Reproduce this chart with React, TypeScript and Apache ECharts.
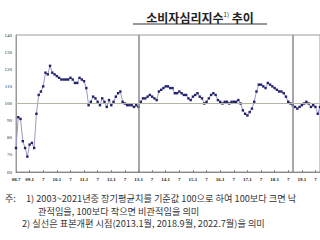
import React, { useEffect, useRef } from "react";
import * as echarts from "echarts";

// Consumer sentiment index, monthly from 2008.7
const values2008to2011 = [74, 92, 91, 78, 74, 69, 76, 77, 74, 94, 105, 107, 110, 118, 117, 122, 118, 117, 116, 115, 114, 114, 114, 114, 115, 114, 112, 112, 115, 114, 113, 109, 99, 101, 104];
const values2011to2013 = [103, 101, 99, 103, 101, 98, 102, 99, 101, 104, 106, 107, 101, 100, 99, 99, 99, 98, 99, 98, 101, 103, 103, 104, 105, 104, 103];
const values2013to2014 = [102, 107, 108, 109, 110, 110, 109, 109];
const values2014to2017 = [106, 106, 107, 106, 105, 105, 103, 102, 104, 105, 106, 104, 103, 100, 101, 103, 105, 106, 105, 102, 101, 100, 101, 101, 100, 101, 101, 101, 102, 100, 96, 94, 93, 95, 97, 101, 107];
const values2017to2019 = [111, 111, 110, 109, 112, 111, 110, 109, 108, 107, 107, 106, 104, 101, 100, 99, 98, 97, 98, 99, 100, 101, 100, 98, 99, 98, 94, 98];
const seriesValues = [...values2008to2011, ...values2011to2013, ...values2013to2014, ...values2014to2017, ...values2017to2019];

const startYear = 2008;
const startMonth = 7;
const categories: string[] = [];
for (let i = 0; i < seriesValues.length; i++) {
  const m = startMonth - 1 + i;
  categories.push(`${startYear + Math.floor(m / 12)}.${(m % 12) + 1}`);
}
const revisionPoints = ["2013.1", "2018.9"];
const yTicks = { min: 60, max: 140, interval: 10 };

const titleMain = "소비자심리지수";
const titleSup = "1)";
const titleTail = " 추이";
const note1a = "주:";
const note1b = "1) 2003~2021년중 장기평균치를 기준값 100으로 하여 100보다 크면 낙";
const note2 = "관적임을, 100보다 작으면 비관적임을 의미";
const note3 = "2) 실선은 표본개편 시점(2013.1월, 2018.9월, 2022.7월)을 의미";

const isLabelIndex = (idx: number) => {
  const mo = Number(categories[idx].split(".")[1]);
  return mo === 1 || mo === 7;
};

export default function App() {
  const ref = useRef<HTMLDivElement>(null);
  useEffect(() => {
    if (!ref.current) return;
    const chart = echarts.init(ref.current, undefined, { renderer: "svg" });
    const kr = "'Noto Sans CJK KR', sans-serif";
    chart.setOption({
      animation: false,
      backgroundColor: "#fff",
      grid: {
        left: 16,
        right: 0,
        top: 35,
        bottom: 68,
        show: true,
        borderColor: "#9a9a9a",
        borderWidth: 1,
      },
      xAxis: {
        type: "category",
        data: categories,
        boundaryGap: false,
        axisLine: { lineStyle: { color: "#888" } },
        axisTick: {
          inside: true,
          length: 2,
          interval: (idx: number) => isLabelIndex(idx),
          lineStyle: { color: "#888" },
        },
        axisLabel: {
          interval: (idx: number) => isLabelIndex(idx),
          fontSize: 5,
          color: "#222",
          fontWeight: "bold",
          margin: 5,
          fontFamily: "Liberation Serif",
          formatter: (v: string, idx: number) => {
            const [y, mo] = v.split(".");
            if (idx === 0) return `${y.slice(2)}.${mo}`;
            if (mo === "1") return `${y.slice(2)}.1`;
            return mo;
          },
        },
        splitLine: { show: false },
      },
      yAxis: {
        type: "value",
        min: yTicks.min,
        max: yTicks.max,
        interval: yTicks.interval,
        axisLine: { show: true, lineStyle: { color: "#9a9a9a" } },
        axisTick: { show: false },
        splitLine: { show: false },
        axisLabel: {
          fontSize: 5,
          color: "#333",
          margin: 4,
          fontFamily: "Liberation Serif",
        },
      },
      series: [
        {
          type: "line",
          data: seriesValues,
          symbol: "rect",
          symbolSize: 2.4,
          showSymbol: true,
          showAllSymbol: true,
          lineStyle: { color: "#9a9ac4", width: 1 },
          itemStyle: { color: "#22226e" },
          markLine: {
            silent: true,
            symbol: "none",
            label: { show: false },
            data: [
              ...revisionPoints.map((p) => ({
                xAxis: p,
                lineStyle: { color: "#8a8a8a", width: 1.5, type: "solid" },
              })),
              { yAxis: 100, lineStyle: { color: "#b4b4a4", width: 1, type: "solid" } },
            ],
          },
        },
      ],
      graphic: [
        {
          type: "text",
          x: 200,
          y: 17,
          style: {
            text: `{a|${titleMain}}{s|${titleSup}}{a|${titleTail}}`,
            align: "center",
            verticalAlign: "middle",
            rich: {
              a: { fontSize: 12, fontWeight: "bold", fontFamily: kr, fill: "#222" },
              s: { fontSize: 6, fontFamily: kr, fill: "#222", verticalAlign: "top", padding: [0, 0, 6, 0] },
            },
          },
        },
        {
          type: "line",
          shape: { x1: 133, y1: 24, x2: 267, y2: 24 },
          style: { stroke: "#333", lineWidth: 1 },
        },
        {
          type: "text",
          x: 5,
          y: 198,
          style: { text: note1a, fontSize: 9, fontFamily: kr, fill: "#333", verticalAlign: "middle" },
        },
        {
          type: "text",
          x: 26,
          y: 198,
          style: { text: note1b, fontSize: 9.2, fontFamily: kr, fill: "#333", verticalAlign: "middle" },
        },
        {
          type: "text",
          x: 38,
          y: 210.5,
          style: { text: note2, fontSize: 9.2, fontFamily: kr, fill: "#333", verticalAlign: "middle" },
        },
        {
          type: "text",
          x: 22,
          y: 223,
          style: { text: note3, fontSize: 9.2, fontFamily: kr, fill: "#333", verticalAlign: "middle" },
        },
      ],
    });
    return () => chart.dispose();
  }, []);
  return (
    <div style={{ position: "fixed", left: 0, top: 0, width: 320, height: 240, overflow: "hidden", background: "#fff" }}>
      <div ref={ref} style={{ width: 320, height: 240 }} />
    </div>
  );
}
